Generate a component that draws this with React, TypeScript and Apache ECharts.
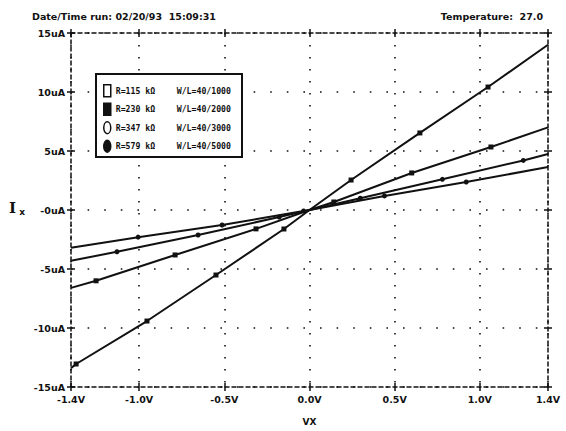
import React, { useEffect, useRef } from "react";
import * as echarts from "echarts";

const titleLeft = "Date/Time run: 02/20/93  15:09:31";
const titleRight = "Temperature:  27.0";
const xName = "VX";

const xTicks = [-1.4, -1.0, -0.5, 0, 0.5, 1.0, 1.4];
const xTickLabels = ["-1.4V", "-1.0V", "-0.5V", "0.0V", "0.5V", "1.0V", "1.4V"];
const yTicks = [-15, -10, -5, 0, 5, 10, 15];
const yTickLabels = ["-15uA", "-10uA", "-5uA", "-0uA", "5uA", "10uA", "15uA"];

const rLabels = ["R=115 kΩ", "R=230 kΩ", "R=347 kΩ", "R=579 kΩ"];
const wlLabels = ["W/L=40/1000", "W/L=40/2000", "W/L=40/3000", "W/L=40/5000"];
const legendIcons = ["rect", "rect", "ellipse", "ellipse"];
const legendFilled = [false, true, false, true];
const seriesSymbols = ["rect", "rect", "circle", "circle"];

const s1 = [[-1.4, -13.4], [-1.37, -13.05], [-0.954, -9.41], [-0.549, -5.51], [-0.15, -1.61], [0, 0], [0.244, 2.54], [0.648, 6.53], [1.048, 10.42], [1.4, 14.0]];
const s2 = [[-1.4, -6.6], [-1.253, -6.0], [-0.789, -3.81], [-0.314, -1.6], [0, 0], [0.143, 0.68], [0.6, 3.14], [1.065, 5.34], [1.4, 7.0]];
const s3 = [[-1.4, -4.3], [-1.13, -3.54], [-0.654, -2.12], [-0.178, -0.6], [0, 0], [0.298, 1.0], [0.78, 2.6], [1.255, 4.2], [1.4, 4.75]];
const s4 = [[-1.4, -3.2], [-1.006, -2.3], [-0.513, -1.27], [-0.035, -0.08], [0, 0], [0.44, 1.19], [0.92, 2.37], [1.4, 3.64]];
const seriesData = [s1, s2, s3, s4];

const ELLIPSE = "path://M3.5,0 C5.43,0 7,2.69 7,6 C7,9.31 5.43,12 3.5,12 C1.57,12 0,9.31 0,6 C0,2.69 1.57,0 3.5,0 Z";
const FONT = "DejaVu Sans";
const INK = "#111";

export default function App() {
  const ref = useRef<HTMLDivElement>(null);
  useEffect(() => {
    document.body.style.margin = "0";
    const chart = echarts.init(ref.current!, null, { renderer: "svg" });
    const tickLine = { lineStyle: { color: INK, width: 1.5 } };
    const borderLine = { show: true, onZero: false, lineStyle: { color: INK, width: 1.5, type: [4, 3] as any } };
    const noLine = { show: false, onZero: false };
    const xBase = { type: "value" as const, min: -1.4, max: 1.4 };
    const yBase = { type: "value" as const, min: -15, max: 15, interval: 5 };
    const xAxes = [
      {
        ...xBase, position: "bottom", axisLine: borderLine,
        axisTick: { show: true, length: 4, customValues: xTicks, ...tickLine },
        axisLabel: {
          customValues: xTicks, margin: 7, color: INK, fontFamily: FONT, fontWeight: "bold", fontSize: 9.5,
          formatter: (v: number) => { const i = xTicks.findIndex((t) => Math.abs(t - v) < 1e-6); return i >= 0 ? xTickLabels[i] : ""; },
        },
        splitLine: { show: true, lineStyle: { color: INK, width: 1.6, type: [1.6, 10.4] as any } },
        name: xName, nameLocation: "middle", nameGap: 30,
        nameTextStyle: { color: INK, fontFamily: FONT, fontWeight: "bold", fontSize: 9 },
      },
      { ...xBase, position: "bottom", axisLine: noLine, axisTick: { show: true, inside: true, length: 4, customValues: xTicks, ...tickLine }, axisLabel: { show: false }, splitLine: { show: false } },
      { ...xBase, position: "top", axisLine: borderLine, axisTick: { show: true, length: 4, customValues: xTicks, ...tickLine }, axisLabel: { show: false }, splitLine: { show: false } },
      { ...xBase, position: "top", axisLine: noLine, axisTick: { show: true, inside: true, length: 4, customValues: xTicks, ...tickLine }, axisLabel: { show: false }, splitLine: { show: false } },
    ];
    const yAxes = [
      {
        ...yBase, position: "left", axisLine: borderLine,
        axisTick: { show: true, length: 4, ...tickLine },
        axisLabel: {
          margin: 6, color: INK, fontFamily: FONT, fontWeight: "bold", fontSize: 9.5,
          formatter: (v: number) => { const i = yTicks.indexOf(v); return i >= 0 ? yTickLabels[i] : ""; },
        },
        splitLine: { show: true, lineStyle: { color: INK, width: 1.6, type: [1.6, 15] as any } },
      },
      { ...yBase, position: "left", axisLine: noLine, axisTick: { show: true, inside: true, length: 4, ...tickLine }, axisLabel: { show: false }, splitLine: { show: false } },
      { ...yBase, position: "right", axisLine: borderLine, axisTick: { show: true, length: 4, ...tickLine }, axisLabel: { show: false }, splitLine: { show: false } },
      { ...yBase, position: "right", axisLine: noLine, axisTick: { show: true, inside: true, length: 4, ...tickLine }, axisLabel: { show: false }, splitLine: { show: false } },
    ];

    const series = seriesData.map((pts, si) => ({
      type: "line",
      name: rLabels[si],
      xAxisIndex: 0,
      yAxisIndex: 0,
      symbol: seriesSymbols[si],
      symbolSize: 5,
      showAllSymbol: true,
      lineStyle: { color: INK, width: 2 },
      itemStyle: { color: INK },
      data: pts.map((p, i) => ({
        value: p,
        symbol: i === 0 || i === pts.length - 1 || (p[0] === 0 && p[1] === 0) ? "none" : seriesSymbols[si],
      })),
    }));

    const mono = { fontFamily: "DejaVu Sans Mono", fontWeight: "bold", fontSize: 8.2, color: INK };

    chart.setOption({
      animation: false,
      backgroundColor: "#fff",
      title: [
        { text: titleLeft, left: 27, top: 6, textStyle: { color: INK, fontFamily: FONT, fontWeight: "bold", fontSize: 9.5 } },
        { text: titleRight, right: 18, top: 6, textStyle: { color: INK, fontFamily: FONT, fontWeight: "bold", fontSize: 9.5 } },
      ],
      grid: { left: 71, right: 18, top: 33, bottom: 44, containLabel: false },
      xAxis: xAxes,
      yAxis: yAxes,
      legend: {
        orient: "vertical",
        left: 95,
        top: 75,
        z: 20,
        padding: [9, 8, 9, 8],
        itemGap: 5,
        itemWidth: 7,
        itemHeight: 12,
        selectedMode: false,
        data: rLabels.map((n, i) => ({
          name: n,
          icon: legendIcons[i] === "ellipse" ? ELLIPSE : "rect",
          itemStyle: { color: legendFilled[i] ? INK : "#fff", borderColor: INK, borderWidth: 1.5 },
        })),
        formatter: (name: string) => {
          const i = rLabels.indexOf(name);
          return `{a|${name}}{b|${wlLabels[i]}}`;
        },
        textStyle: {
          color: INK,
          rich: {
            a: { ...mono, width: 61 },
            b: { ...mono },
          },
        },
      },
      graphic: [
        {
          type: "rect",
          left: 95,
          top: 73,
          z: 10,
          shape: { width: 146, height: 83 },
          style: { fill: "#fff", stroke: INK, lineWidth: 2 },
        },
        {
          type: "text",
          left: 9,
          top: 200,
          style: {
            text: "{a|I}{b| x}",
            rich: {
              a: { fontFamily: "DejaVu Serif", fontWeight: "bold", fontSize: 15, fill: INK },
              b: { fontFamily: FONT, fontWeight: "bold", fontSize: 9, fill: INK, padding: [8, 0, 0, 0] },
            },
          },
        },
      ],
      series,
    });
    return () => chart.dispose();
  }, []);
  return <div ref={ref} style={{ width: 566, height: 431 }} />;
}
